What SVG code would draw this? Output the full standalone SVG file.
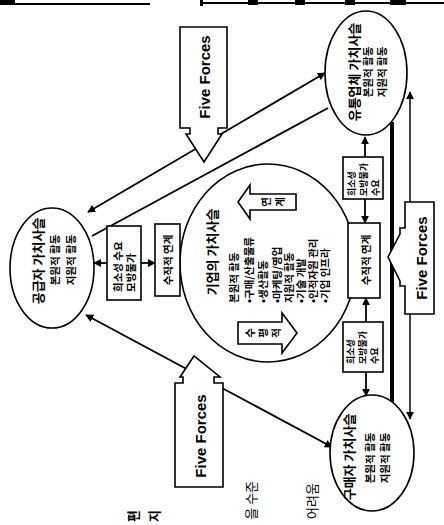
<svg xmlns="http://www.w3.org/2000/svg" width="444" height="525" viewBox="0 0 444 525">
<style>
.ko{font-family:"Noto Sans CJK KR","Noto Sans",sans-serif;fill:#000;dominant-baseline:central}
.t{font-size:13px;font-weight:bold}
.s{font-size:10.5px;font-weight:bold}
.xs{font-size:9px;font-weight:bold}
.ff{font-family:"Liberation Sans",Arial,sans-serif;font-weight:bold;font-size:15px;dominant-baseline:central}
.node{fill:#fff;stroke:#000;stroke-width:1.6}
.ln{stroke:#000;stroke-width:1.8;fill:none}
</style>
<defs>
<marker id="ah" viewBox="0 0 10 10" refX="9" refY="5" markerWidth="8" markerHeight="8" markerUnits="userSpaceOnUse" orient="auto-start-reverse">
<path d="M0,0 L10,5 L0,10 z" fill="#000"/>
</marker>
</defs>
<rect width="444" height="525" fill="#fff"/>
<g id="page-border">
<path d="M0,4 H150 M200,3 H444" stroke="#000" stroke-width="2"/>
<rect x="0" y="0" width="15" height="5" fill="#000"/>
<rect x="200" y="0" width="3" height="6" fill="#000"/>
<rect x="248" y="0" width="10" height="5" fill="#000"/>
<rect x="295" y="0" width="10" height="5" fill="#000"/>
<rect x="345" y="0" width="10" height="5" fill="#000"/>
<rect x="390" y="0" width="16" height="5" fill="#000"/>
</g>
<g id="connectors">
<line class="ln" x1="88" y1="212" x2="325" y2="73" marker-start="url(#ah)" marker-end="url(#ah)"/>
<line class="ln" x1="92" y1="236" x2="328" y2="108"/>
<line class="ln" x1="86" y1="315" x2="332" y2="447" marker-start="url(#ah)" marker-end="url(#ah)"/>
<line x1="392" y1="122" x2="392" y2="405" stroke="#000" stroke-width="4"/>
<line x1="410" y1="92" x2="410" y2="419" stroke="#000" stroke-width="1.5" marker-start="url(#ah)" marker-end="url(#ah)"/>
<line class="ln" x1="107" y1="263" x2="94" y2="263" marker-end="url(#ah)"/>
<line class="ln" x1="141" y1="263" x2="155" y2="263" marker-end="url(#ah)"/>
<line class="ln" x1="365" y1="157" x2="365" y2="137" marker-end="url(#ah)"/>
<line class="ln" x1="365" y1="199" x2="365" y2="223" marker-end="url(#ah)"/>
<line class="ln" x1="366" y1="322" x2="366" y2="298" marker-end="url(#ah)"/>
<line class="ln" x1="366" y1="372" x2="366" y2="396" marker-end="url(#ah)"/>
</g>
<g id="five-forces-top">
<polygon class="node" points="180,27 227,27 227,128 218,128 218,134 222,134 204,162 186,134 190,134 190,128 180,128"/>
<text class="ff" transform="translate(204,77) rotate(-90)" text-anchor="middle">Five Forces</text>
</g>
<g id="five-forces-bottom">
<polygon class="node" points="175,487 223,487 223,383 214,383 214,377 220,377 194,356 180,377 183,377 183,383 175,383"/>
<text class="ff" transform="translate(200,436) rotate(-90)" text-anchor="middle">Five Forces</text>
</g>
<g id="five-forces-right">
<polygon class="node" points="434,202 405,202 405,228 400,228 400,234 388,257 400,281 400,286 405,286 405,314 434,314"/>
<text class="ff" transform="translate(421,258) rotate(-90)" text-anchor="middle">Five Forces</text>
</g>
<g id="distributor">
<ellipse class="node" cx="366" cy="73" rx="41" ry="62"/>
<text class="ko t" transform="translate(353,72) rotate(-90)" text-anchor="middle">유통업체 가치사슬</text>
<text class="ko s" transform="translate(367,72) rotate(-90)" text-anchor="middle">본원적 활동</text>
<text class="ko s" transform="translate(381,72) rotate(-90)" text-anchor="middle">지원적 활동</text>
</g>
<g id="supplier">
<ellipse class="node" cx="52" cy="268" rx="42" ry="60"/>
<text class="ko t" transform="translate(37,261) rotate(-90)" text-anchor="middle">공급자 가치사슬</text>
<text class="ko s" transform="translate(54,260) rotate(-90)" text-anchor="middle">본원적 활동</text>
<text class="ko s" transform="translate(70,260) rotate(-90)" text-anchor="middle">지원적 활동</text>
</g>
<g id="buyer">
<ellipse class="node" cx="372" cy="453" rx="42" ry="58"/>
<text class="ko t" transform="translate(348,457) rotate(-90)" text-anchor="middle">구매자 가치사슬</text>
<text class="ko s" transform="translate(369,458) rotate(-90)" text-anchor="middle">본원적 활동</text>
<text class="ko s" transform="translate(384,458) rotate(-90)" text-anchor="middle">지원적 활동</text>
</g>
<g id="firm">
<ellipse class="node" cx="268" cy="263" rx="88" ry="99"/>
<text class="ko t" transform="translate(211,252) rotate(-90)" text-anchor="middle">기업의 가치사슬</text>
<text class="ko s" transform="translate(233,303) rotate(-90)">본원적 활동</text>
<text class="ko s" transform="translate(248,303) rotate(-90)">•구매/산출물류</text>
<text class="ko s" transform="translate(262,303) rotate(-90)">•생산활동</text>
<text class="ko s" transform="translate(276,303) rotate(-90)">•마케팅/영업</text>
<text class="ko s" transform="translate(288,303) rotate(-90)">지원적 활동</text>
<text class="ko s" transform="translate(300,303) rotate(-90)">•기술 개발</text>
<text class="ko s" transform="translate(312,303) rotate(-90)">•인적자원 관리</text>
<text class="ko s" transform="translate(324,303) rotate(-90)">•기업 인프라</text>
<polygon class="node" points="238,202 250,185 250,194 296,194 296,210 250,210 250,219"/>
<text class="ko s" transform="translate(265,202) rotate(-90)" text-anchor="middle">연</text>
<text class="ko s" transform="translate(279,202) rotate(-90)" text-anchor="middle">계</text>
<polygon class="node" points="238,322 282,322 282,313 297,333 282,353 282,344 238,344"/>
<text class="ko s" transform="translate(249,333) rotate(-90)" text-anchor="middle">수</text>
<text class="ko s" transform="translate(262,333) rotate(-90)" text-anchor="middle">평</text>
<text class="ko s" transform="translate(275,333) rotate(-90)" text-anchor="middle">적</text>
</g>
<g id="scarcity-left">
<rect class="node" x="107" y="226" width="34" height="74" stroke-width="1.3"/>
<text class="ko s" transform="translate(117,292) rotate(-90)">희소성 수요</text>
<text class="ko s" transform="translate(130,292) rotate(-90)">모방불가</text>
</g>
<g id="vertical-left">
<rect class="node" x="155" y="224" width="25" height="72" stroke-width="2.4"/>
<text class="ko s" transform="translate(167,260) rotate(-90)" text-anchor="middle">수직적 연계</text>
</g>
<g id="scarcity-top">
<rect class="node" x="343" y="157" width="40" height="42" stroke-width="1.3"/>
<text class="ko xs" transform="translate(351,196) rotate(-90)">희소성</text>
<text class="ko xs" transform="translate(363,196) rotate(-90)">모방불가</text>
<text class="ko xs" transform="translate(375,196) rotate(-90)">수요</text>
</g>
<g id="vertical-right">
<rect class="node" x="348" y="223" width="32" height="75" stroke-width="1.5"/>
<text class="ko s" transform="translate(365,260) rotate(-90)" text-anchor="middle">수직적 연계</text>
</g>
<g id="scarcity-bottom">
<rect class="node" x="343" y="322" width="40" height="50" stroke-width="1.3"/>
<text class="ko xs" transform="translate(350,364) rotate(-90)">희소성</text>
<text class="ko xs" transform="translate(362,364) rotate(-90)">모방불가</text>
<text class="ko xs" transform="translate(374,364) rotate(-90)">수요</text>
</g>
<g id="page-fragments">
<text class="ko t" transform="translate(250,481) rotate(-90)" text-anchor="end" style="font-weight:normal">을 수준</text>
<text class="ko t" transform="translate(311,483) rotate(-90)" text-anchor="end" style="font-weight:normal">어려움</text>
<text class="ko t" transform="translate(132,510) rotate(-90)" text-anchor="end">편</text>
<text class="ko t" transform="translate(153,510) rotate(-90)" text-anchor="end">지</text>
</g>
</svg>
